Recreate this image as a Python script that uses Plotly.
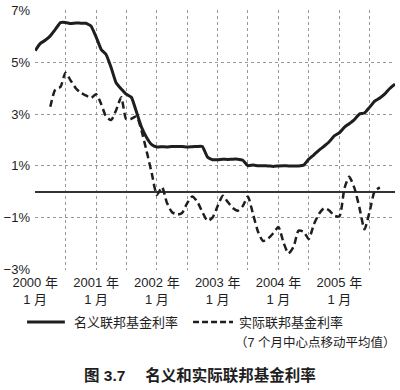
import pandas as pd
import plotly.graph_objects as go

months = pd.date_range("2000-01-01", "2005-12-01", freq="MS")

nominal_rate = [5.45, 5.73, 5.85, 6.02, 6.27, 6.53, 6.54, 6.50, 6.52, 6.51, 6.51, 6.40,
                5.98, 5.49, 5.31, 4.80, 4.21, 3.97, 3.77, 3.65, 3.07, 2.49, 2.09, 1.82,
                1.73, 1.74, 1.73, 1.75, 1.75, 1.75, 1.73, 1.74, 1.75, 1.75, 1.34, 1.24,
                1.24, 1.26, 1.25, 1.26, 1.26, 1.22, 1.01, 1.03, 1.01, 1.01, 1.00, 0.98,
                1.00, 1.01, 1.00, 1.00, 1.00, 1.03, 1.26, 1.43, 1.61, 1.76, 1.93, 2.16,
                2.28, 2.50, 2.63, 2.79, 3.00, 3.04, 3.26, 3.50, 3.62, 3.78, 4.00, 4.16]

real_rate = [None, None, None,
             3.28, 3.95, 4.05, 4.60, 4.30, 4.00, 3.82, 3.72, 3.62,
             3.77, 3.38, 2.92, 2.77, 3.15, 3.65, 2.80, 2.82, 2.92, 2.35, 1.55, 0.72,
             -0.12, 0.18, -0.40, -0.78, -0.88, -0.82, -0.45, -0.18, -0.38, -0.78, -1.12, -1.00,
             -0.55, -0.15, -0.38, -0.62, -0.73, -0.55, -0.18, -0.85, -1.55, -1.90, -1.80, -1.60,
             -1.36, -1.97, -2.38, -2.12, -1.50, -1.55, -1.82, -1.25, -0.85, -0.63, -0.72, -0.92,
             -0.95, 0.15, 0.58, 0.15, -0.60, -1.45, -0.78, 0.02, 0.17,
             None, None, None]

x_tick_vals = pd.date_range("2000-01-01", "2005-07-01", freq="6MS")
x_tick_text = ["2000 年<br>1 月", "", "2001 年<br>1 月", "", "2002 年<br>1 月", "",
               "2003 年<br>1 月", "", "2004 年<br>1 月", "", "2005 年<br>1 月", ""]
y_tick_vals = [-3, -1, 1, 3, 5, 7]
y_tick_text = ["−3%", "−1%", "1%", "3%", "5%", "7%"]

name_nominal = "名义联邦基金利率"
name_real = "实际联邦基金利率"
name_real_note = "（7 个月中心点移动平均值）"
title_text = "图 3.7　 名义和实际联邦基金利率"

FONT = "Liberation Sans, Arial, Noto Sans CJK SC, sans-serif"
INK = "#1e1e1e"

fig = go.Figure()
fig.add_trace(go.Scatter(x=months, y=nominal_rate, mode="lines", name=name_nominal,
                         line=dict(color=INK, width=3, shape="spline", smoothing=0.4)))
fig.add_trace(go.Scatter(x=months, y=real_rate, mode="lines", name=name_real,
                         line=dict(color=INK, width=2.5, dash="7px,4px", shape="spline", smoothing=0.6)))

fig.update_xaxes(range=[months[0] - pd.Timedelta(days=1), months[-1]],
                 tickvals=x_tick_vals, ticktext=x_tick_text, tickangle=0, automargin=False,
                 showgrid=True, gridcolor="#999999", griddash="dot", gridwidth=1,
                 showline=False, zeroline=False, ticks="", ticklabelstandoff=3,
                 tickfont=dict(family=FONT, size=13, color=INK))
fig.update_yaxes(range=[-3.02, 7.02], tickvals=y_tick_vals, ticktext=y_tick_text, automargin=False,
                 showgrid=True, gridcolor="#999999", griddash="dot", gridwidth=1,
                 showline=False, zeroline=True, zerolinecolor="#333333", zerolinewidth=2,
                 ticks="", ticklabelstandoff=4,
                 tickfont=dict(family=FONT, size=13, color=INK))

# legend (drawn manually)
fig.add_shape(type="line", xref="paper", yref="paper", x0=-0.022, x1=0.083, y0=-0.2, y1=-0.2,
              line=dict(color=INK, width=3))
fig.add_annotation(xref="paper", yref="paper", x=0.103, y=-0.2, xanchor="left", yanchor="middle",
                   text=name_nominal, showarrow=False, font=dict(family=FONT, size=13, color=INK))
fig.add_shape(type="line", xref="paper", yref="paper", x0=0.439, x1=0.55, y0=-0.2, y1=-0.2,
              line=dict(color=INK, width=2.5, dash="6px,3px"))
fig.add_annotation(xref="paper", yref="paper", x=0.561, y=-0.2, xanchor="left", yanchor="middle",
                   text=name_real, showarrow=False, font=dict(family=FONT, size=13, color=INK))
fig.add_annotation(xref="paper", yref="paper", x=0.55, y=-0.277, xanchor="left", yanchor="middle",
                   text=name_real_note, showarrow=False, font=dict(family=FONT, size=12.5, color=INK))
fig.add_annotation(xref="paper", yref="paper", x=0.458, y=-0.404, xanchor="center", yanchor="middle",
                   text="<b>" + title_text + "</b>", showarrow=False,
                   font=dict(family=FONT, size=15.5, color=INK))

fig.update_layout(width=400, height=390, margin=dict(l=35, r=5, t=10, b=120),
                  paper_bgcolor="white", plot_bgcolor="white", showlegend=False)

fig.write_html("out.html", config={"displayModeBar": False},
               post_script="document.body.style.margin='0';")
